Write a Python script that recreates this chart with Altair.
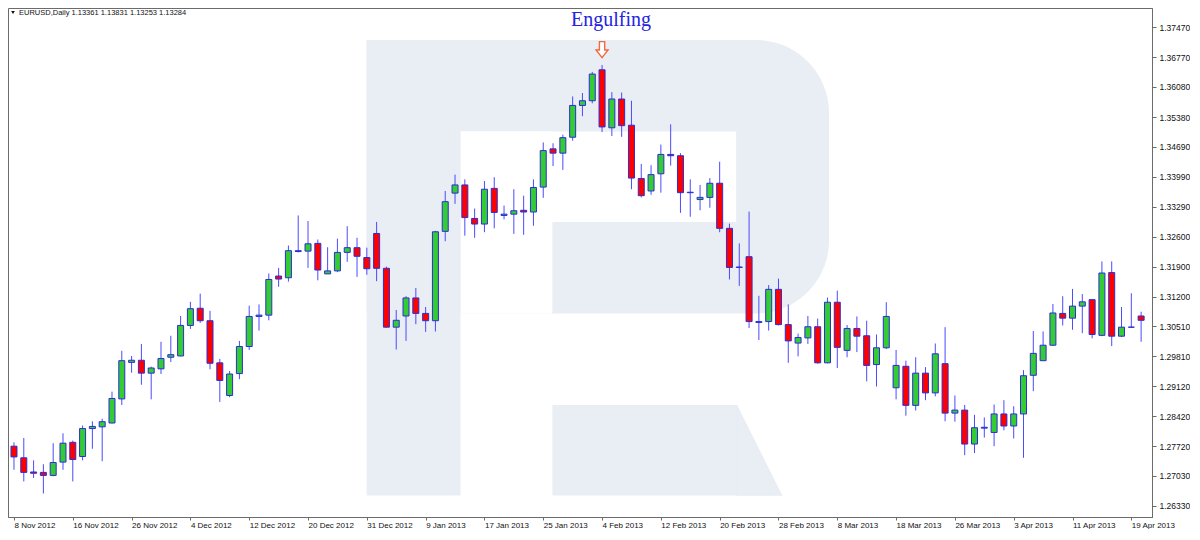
import json
import altair as alt
import pandas as pd

# ---------------- data ----------------
date_labels = ["8 Nov 2012", "16 Nov 2012", "26 Nov 2012", "4 Dec 2012", "12 Dec 2012",
               "20 Dec 2012", "31 Dec 2012", "9 Jan 2013", "17 Jan 2013", "25 Jan 2013",
               "4 Feb 2013", "12 Feb 2013", "20 Feb 2013", "28 Feb 2013", "8 Mar 2013",
               "18 Mar 2013", "26 Mar 2013", "3 Apr 2013", "11 Apr 2013", "19 Apr 2013"]

opens = [1.2772, 1.2745, 1.2712, 1.2711, 1.2704, 1.2735, 1.2781, 1.2748, 1.2813, 1.2817,
         1.2826, 1.2882, 1.2967, 1.2972, 1.2942, 1.2952, 1.2979, 1.2982, 1.3053, 1.3093,
         1.3064, 1.2966, 1.2890, 1.2941, 1.3004, 1.3074, 1.3077, 1.3168, 1.3164, 1.3225,
         1.3226, 1.3244, 1.3173, 1.3180, 1.3223, 1.3234, 1.3211, 1.3267, 1.3186, 1.3049,
         1.3075, 1.3117, 1.3081, 1.3064, 1.3272, 1.3361, 1.3380, 1.3302, 1.3289, 1.3372,
         1.3309, 1.3312, 1.3321, 1.3317, 1.3375, 1.3464, 1.3454, 1.3491, 1.3565, 1.3576,
         1.3648, 1.3513, 1.3580, 1.3519, 1.3395, 1.3366, 1.3406, 1.3451, 1.3448, 1.3362,
         1.3346, 1.3351, 1.3384, 1.3279, 1.3188, 1.3213, 1.3060, 1.3062, 1.3137, 1.3055,
         1.3012, 1.3024, 1.3050, 1.2966, 1.3107, 1.2995, 1.3046, 1.3029, 1.2962, 1.3001,
         1.2908, 1.2958, 1.2867, 1.2942, 1.2896, 1.2964, 1.2849, 1.2856, 1.2777, 1.2814,
         1.2804, 1.2847, 1.2819, 1.2847, 1.2937, 1.2971, 1.3007, 1.3081, 1.3070, 1.3098,
         1.3113, 1.3030, 1.3176, 1.3028, 1.3049, 1.3075]

highs = [1.2781, 1.2791, 1.2739, 1.2730, 1.2779, 1.2802, 1.2785, 1.2820, 1.2830, 1.2836,
         1.2899, 1.2994, 1.2982, 1.3010, 1.2957, 1.3015, 1.3029, 1.3075, 1.3108, 1.3127,
         1.3087, 1.2975, 1.2947, 1.3017, 1.3099, 1.3102, 1.3174, 1.3187, 1.3239, 1.3309,
         1.3296, 1.3253, 1.3235, 1.3255, 1.3284, 1.3257, 1.3234, 1.3294, 1.3190, 1.3089,
         1.3121, 1.3140, 1.3096, 1.3273, 1.3366, 1.3404, 1.3393, 1.3325, 1.3389, 1.3398,
         1.3332, 1.3370, 1.3355, 1.3393, 1.3479, 1.3477, 1.3497, 1.3586, 1.3594, 1.3643,
         1.3659, 1.3596, 1.3595, 1.3576, 1.3429, 1.3426, 1.3474, 1.3521, 1.3454, 1.3393,
         1.3380, 1.3396, 1.3434, 1.3290, 1.3244, 1.3318, 1.3122, 1.3147, 1.3162, 1.3102,
         1.3034, 1.3075, 1.3069, 1.3118, 1.3134, 1.3054, 1.3074, 1.3064, 1.3032, 1.3107,
         1.2996, 1.2971, 1.2979, 1.2956, 1.3011, 1.3049, 1.2890, 1.2868, 1.2845, 1.2839,
         1.2869, 1.2879, 1.2865, 1.2949, 1.3040, 1.3039, 1.3103, 1.3121, 1.3138, 1.3126,
         1.3114, 1.3202, 1.3202, 1.3096, 1.3128, 1.3085]

lows = [1.2717, 1.2690, 1.2698, 1.2662, 1.2702, 1.2717, 1.2690, 1.2739, 1.2766, 1.2737,
        1.2825, 1.2868, 1.2943, 1.2915, 1.2881, 1.2940, 1.2968, 1.2981, 1.3045, 1.3059,
        1.2951, 1.2875, 1.2886, 1.2928, 1.2996, 1.3041, 1.3065, 1.3143, 1.3155, 1.3223,
        1.3187, 1.3158, 1.3173, 1.3177, 1.3201, 1.3166, 1.3171, 1.3156, 1.3048, 1.2997,
        1.3017, 1.3056, 1.3038, 1.3039, 1.3249, 1.3336, 1.3262, 1.3257, 1.3270, 1.3279,
        1.3300, 1.3266, 1.3264, 1.3285, 1.3350, 1.3424, 1.3415, 1.3483, 1.3540, 1.3570,
        1.3503, 1.3494, 1.3492, 1.3370, 1.3351, 1.3357, 1.3362, 1.3425, 1.3315, 1.3306,
        1.3321, 1.3327, 1.3270, 1.3160, 1.3145, 1.3047, 1.3019, 1.3041, 1.3053, 1.2966,
        1.2981, 1.3010, 1.2964, 1.2965, 1.2954, 1.2979, 1.2991, 1.2923, 1.2911, 1.2998,
        1.2881, 1.2843, 1.2855, 1.2879, 1.2888, 1.2830, 1.2829, 1.2751, 1.2756, 1.2792,
        1.2772, 1.2809, 1.2790, 1.2745, 1.2900, 1.2970, 1.3005, 1.3053, 1.3043, 1.3035,
        1.3023, 1.3028, 1.3005, 1.3026, 1.3047, 1.3015]

closes = [1.2747, 1.2711, 1.2709, 1.2704, 1.2734, 1.2779, 1.2741, 1.2813, 1.2818, 1.2829,
          1.2883, 1.2971, 1.2972, 1.2942, 1.2954, 1.2976, 1.2985, 1.3053, 1.3092, 1.3064,
          1.2965, 1.2925, 1.2940, 1.3004, 1.3074, 1.3077, 1.3160, 1.3161, 1.3227, 1.3227,
          1.3243, 1.3182, 1.3180, 1.3223, 1.3234, 1.3214, 1.3185, 1.3186, 1.3049, 1.3065,
          1.3117, 1.3081, 1.3064, 1.3271, 1.3341, 1.3380, 1.3304, 1.3289, 1.3370, 1.3316,
          1.3312, 1.3320, 1.3317, 1.3374, 1.3460, 1.3454, 1.3490, 1.3565, 1.3576, 1.3638,
          1.3515, 1.3580, 1.3518, 1.3396, 1.3355, 1.3404, 1.3451, 1.3448, 1.3362, 1.3363,
          1.3351, 1.3384, 1.3279, 1.3188, 1.3189, 1.3062, 1.3062, 1.3137, 1.3055, 1.3017,
          1.3025, 1.3050, 1.2966, 1.3107, 1.3002, 1.3046, 1.3028, 1.2960, 1.3001, 1.3074,
          1.2960, 1.2867, 1.2942, 1.2896, 1.2987, 1.2849, 1.2856, 1.2777, 1.2815, 1.2816,
          1.2847, 1.2819, 1.2847, 1.2936, 1.2988, 1.3007, 1.3082, 1.3070, 1.3098, 1.3108,
          1.3032, 1.3175, 1.3028, 1.3049, 1.3049, 1.3065]

y_ticks = [1.26330, 1.27030, 1.27720, 1.28420, 1.29120, 1.29810, 1.30510, 1.31200,
           1.31900, 1.32600, 1.33290, 1.33990, 1.34690, 1.35380, 1.36080, 1.36770, 1.37470]

signal_index = [60]
signal_price = [1.3695]
title_text = ["Engulfing"]
info_text = ["EURUSD,Daily  1.13361 1.13831 1.13253 1.13284"]

# ---------------- chart ----------------
n = len(opens)
df = pd.DataFrame({"i": list(range(n)), "open": opens, "high": highs,
                   "low": lows, "close": closes})
ann = pd.DataFrame({"ix": signal_index, "py": signal_price})
one = pd.DataFrame({"k": [0]})

W, H = 1144, 509
FRAME = "#6b6b6b"
LOGO = "#e9edf4"

xs = alt.Scale(domain=[-0.1, 115.6], nice=False, zero=False)
ys = alt.Scale(domain=[1.26072, 1.37918], nice=False, zero=False)

label_js = json.dumps(date_labels)
x_axis = alt.Axis(values=list(range(0, 6 * len(date_labels), 6)),
                  labelExpr=f"{label_js}[round(datum.value / 6)]",
                  labelAlign="left", labelBaseline="top", labelPadding=1,
                  labelFlush=False, labelOverlap=False, labelFont="Liberation Sans",
                  labelFontSize=8, labelColor="#111111", tickSize=3, tickColor=FRAME,
                  domainColor=FRAME, grid=False, title=None)
y_axis = alt.Axis(orient="right", values=y_ticks, format=".5f", labelFont="Liberation Sans",
                  labelFontSize=8.5, labelColor="#111111", labelPadding=3, tickSize=4,
                  tickColor=FRAME, domainColor=FRAME, labelFlush=False, labelOverlap=False,
                  grid=False, title=None)

X = alt.X("i:Q", scale=xs, axis=x_axis)


def logo_rect(x1, x2, y1, y2, color=LOGO, **kw):
    return alt.Chart(one).mark_rect(color=color, **kw).encode(
        x=alt.value(x1), x2=alt.value(x2), y=alt.value(y1), y2=alt.value(y2))


# watermark logo (decoration, pixel positions)
bowl = logo_rect(358.6, 821, 32.1, 305.5, cornerRadiusTopRight=73, cornerRadiusBottomRight=73)
hole = logo_rect(452.5, 728.2, 123.6, 214.1, color="white")
gap = logo_rect(452.5, 544.4, 123.6, 305.5, color="white")
stem = logo_rect(358.6, 452.5, 32.1, 487.5)
leg = logo_rect(544.4, 729.6, 397, 487.5)
leg_tip = alt.Chart(one).mark_point(
    shape="M-0.5,-1 L-0.5,1 L0.5,1 Z", size=8190, filled=True, fill=LOGO,
    stroke=LOGO, strokeWidth=0.5, opacity=1).encode(x=alt.value(751.5), y=alt.value(442.25))

wicks = alt.Chart(df).mark_rule(color="#4b4bff", strokeWidth=1).encode(
    x=X, y=alt.Y("low:Q", scale=ys, axis=y_axis), y2="high:Q")

bodies = alt.Chart(df).mark_bar(size=6, stroke="#2c2cd8", strokeWidth=1).encode(
    x=X, y=alt.Y("open:Q", scale=ys, axis=y_axis), y2="close:Q",
    fill=alt.condition("datum.close >= datum.open", alt.value("#33cc33"), alt.value("#ff0000")))

arrow = alt.Chart(ann).mark_point(
    shape="M-0.33,-1 L0.33,-1 L0.33,0.05 L0.75,0.05 L0,1 L-0.75,0.05 L-0.33,0.05 Z",
    size=256, filled=True, fill="white", stroke="#f26a3c", strokeWidth=1.4, opacity=1).encode(
    x=alt.X("ix:Q", scale=xs, axis=x_axis), y=alt.Y("py:Q", scale=ys, axis=y_axis))

title = alt.Chart(pd.DataFrame({"t": title_text})).mark_text(
    font="Liberation Serif", fontSize=20, color="#2424e0", align="center",
    baseline="alphabetic").encode(text="t:N", x=alt.value(603), y=alt.value(18))

tri = alt.Chart(one).mark_point(shape="triangle-down", size=14, filled=True,
                                color="#111111", opacity=1).encode(
    x=alt.value(5), y=alt.value(4.5))
info = alt.Chart(pd.DataFrame({"t": info_text})).mark_text(
    font="Liberation Sans", fontSize=7.5, color="#111111", align="left",
    baseline="middle").encode(text="t:N", x=alt.value(11), y=alt.value(5))

chart = alt.layer(bowl, hole, gap, stem, leg, leg_tip, wicks, bodies, arrow, title, tri, info
                  ).properties(width=W, height=H, padding=0, background="white"
                  ).configure_view(stroke=FRAME, strokeWidth=1)

chart.save("out.html", embed_options={"renderer": "svg", "actions": False})
